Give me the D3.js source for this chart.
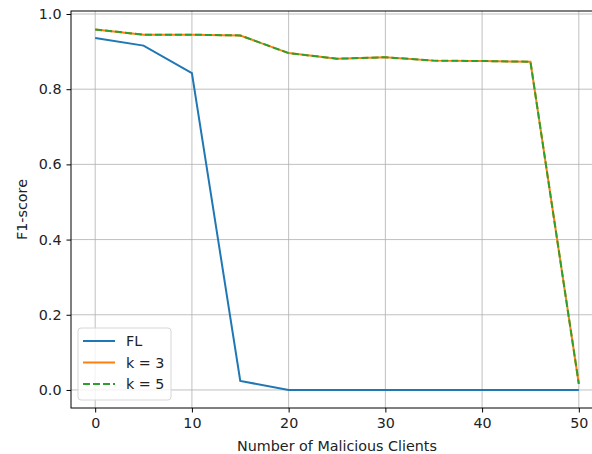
<!DOCTYPE html>
<html>
<head>
<meta charset="utf-8">
<script src="https://cdn.jsdelivr.net/npm/d3@7"></script>
<style>
  body { margin: 0; background: #fff; }
  svg { display: block; font-family: "DejaVu Sans", sans-serif; }
</style>
</head>
<body>
<div id="chart"></div>
<script>
// values
var clients = [0, 5, 10, 15, 20, 25, 30, 35, 40, 45, 50]
var fl = [0.936, 0.916, 0.843, 0.024, 0.0, 0.0, 0.0, 0.0, 0.0, 0.0, 0.0]
var k3 = [0.959, 0.945, 0.945, 0.943, 0.896, 0.881, 0.885, 0.876, 0.875, 0.873, 0.016]
var k5 = [0.959, 0.945, 0.945, 0.943, 0.896, 0.881, 0.885, 0.876, 0.875, 0.873, 0.016]
var xTicks = [0, 10, 20, 30, 40, 50]
var yTicks = [0.0, 0.2, 0.4, 0.6, 0.8, 1.0]

var width = 592, height = 454
var marginLeft = 71, marginTop = 11, plotW = 532, plotH = 397
var fontSize = "14.3px"

var svg = d3.select("#chart").append("svg")
            .attr("width", width)
            .attr("height", height)

var xScale = d3.scaleLinear().domain([-2.5, 52.5]).range([marginLeft, marginLeft + plotW])
var yScale = d3.scaleLinear().domain([-0.048, 1.008]).range([marginTop + plotH, marginTop])

// grid
svg.append("g").selectAll("line").data(xTicks).enter().append("line")
   .attr("x1", function(d) { return xScale(d) }).attr("x2", function(d) { return xScale(d) })
   .attr("y1", marginTop).attr("y2", marginTop + plotH)
   .attr("stroke", "#b0b0b0").attr("stroke-width", 0.8)
svg.append("g").selectAll("line").data(yTicks).enter().append("line")
   .attr("y1", function(d) { return yScale(d) }).attr("y2", function(d) { return yScale(d) })
   .attr("x1", marginLeft).attr("x2", marginLeft + plotW)
   .attr("stroke", "#b0b0b0").attr("stroke-width", 0.8)

var line = d3.line()
             .x(function(d, i) { return xScale(clients[i]) })
             .y(function(d) { return yScale(d) })

svg.append("path").datum(fl).attr("d", line)
   .attr("fill", "none").attr("stroke", "#1f77b4").attr("stroke-width", 2)
svg.append("path").datum(k3).attr("d", line)
   .attr("fill", "none").attr("stroke", "#ff7f0e").attr("stroke-width", 2)
svg.append("path").datum(k5).attr("d", line)
   .attr("fill", "none").attr("stroke", "#2ca02c").attr("stroke-width", 2)
   .attr("stroke-dasharray", "7,3")

// axes
var xAxis = d3.axisBottom(xScale).tickValues(xTicks).tickSize(4.5).tickPadding(5)
              .tickFormat(d3.format("d"))
var yAxis = d3.axisLeft(yScale).tickValues(yTicks).tickSize(4.5).tickPadding(5)
              .tickFormat(d3.format(".1f"))

var gx = svg.append("g").attr("transform", "translate(0," + (marginTop + plotH) + ")").call(xAxis)
var gy = svg.append("g").attr("transform", "translate(" + marginLeft + ",0)").call(yAxis)
;[gx, gy].forEach(function(g) {
  g.select(".domain").remove()
  g.selectAll("line").attr("stroke", "#000").attr("stroke-width", 1)
  g.selectAll("text").attr("fill", "#222").style("font-size", fontSize)
    .style("font-family", "DejaVu Sans, sans-serif")
})

// frame
svg.append("rect").attr("x", marginLeft).attr("y", marginTop).attr("width", plotW).attr("height", plotH)
   .attr("fill", "none").attr("stroke", "#000").attr("stroke-width", 1)

svg.append("text").attr("x", xScale(25)).attr("y", 451)
   .attr("text-anchor", "middle").attr("fill", "#222").style("font-size", fontSize)
   .text("Number of Malicious Clients")
svg.append("text").attr("transform", "translate(27," + (marginTop + plotH / 2) + ") rotate(-90)")
   .attr("text-anchor", "middle").attr("fill", "#222").style("font-size", fontSize)
   .text("F1-score")

// legend
var legendItems = [
  { name: "FL", color: "#1f77b4", dash: null },
  { name: "k = 3", color: "#ff7f0e", dash: null },
  { name: "k = 5", color: "#2ca02c", dash: "7,3" }
]
var lg = svg.append("g").attr("transform", "translate(78,328)")
lg.append("rect").attr("width", 93).attr("height", 72).attr("rx", 3)
  .attr("fill", "#fff").attr("fill-opacity", 0.8).attr("stroke", "#d6d6d6")
legendItems.forEach(function(d, i) {
  var y = 13 + i * 21.5
  lg.append("line").attr("x1", 5).attr("x2", 37).attr("y1", y).attr("y2", y)
    .attr("stroke", d.color).attr("stroke-width", 2).attr("stroke-dasharray", d.dash)
  lg.append("text").attr("x", 48).attr("y", y + 5).attr("fill", "#222")
    .style("font-size", fontSize).text(d.name)
})
</script>
</body>
</html>
